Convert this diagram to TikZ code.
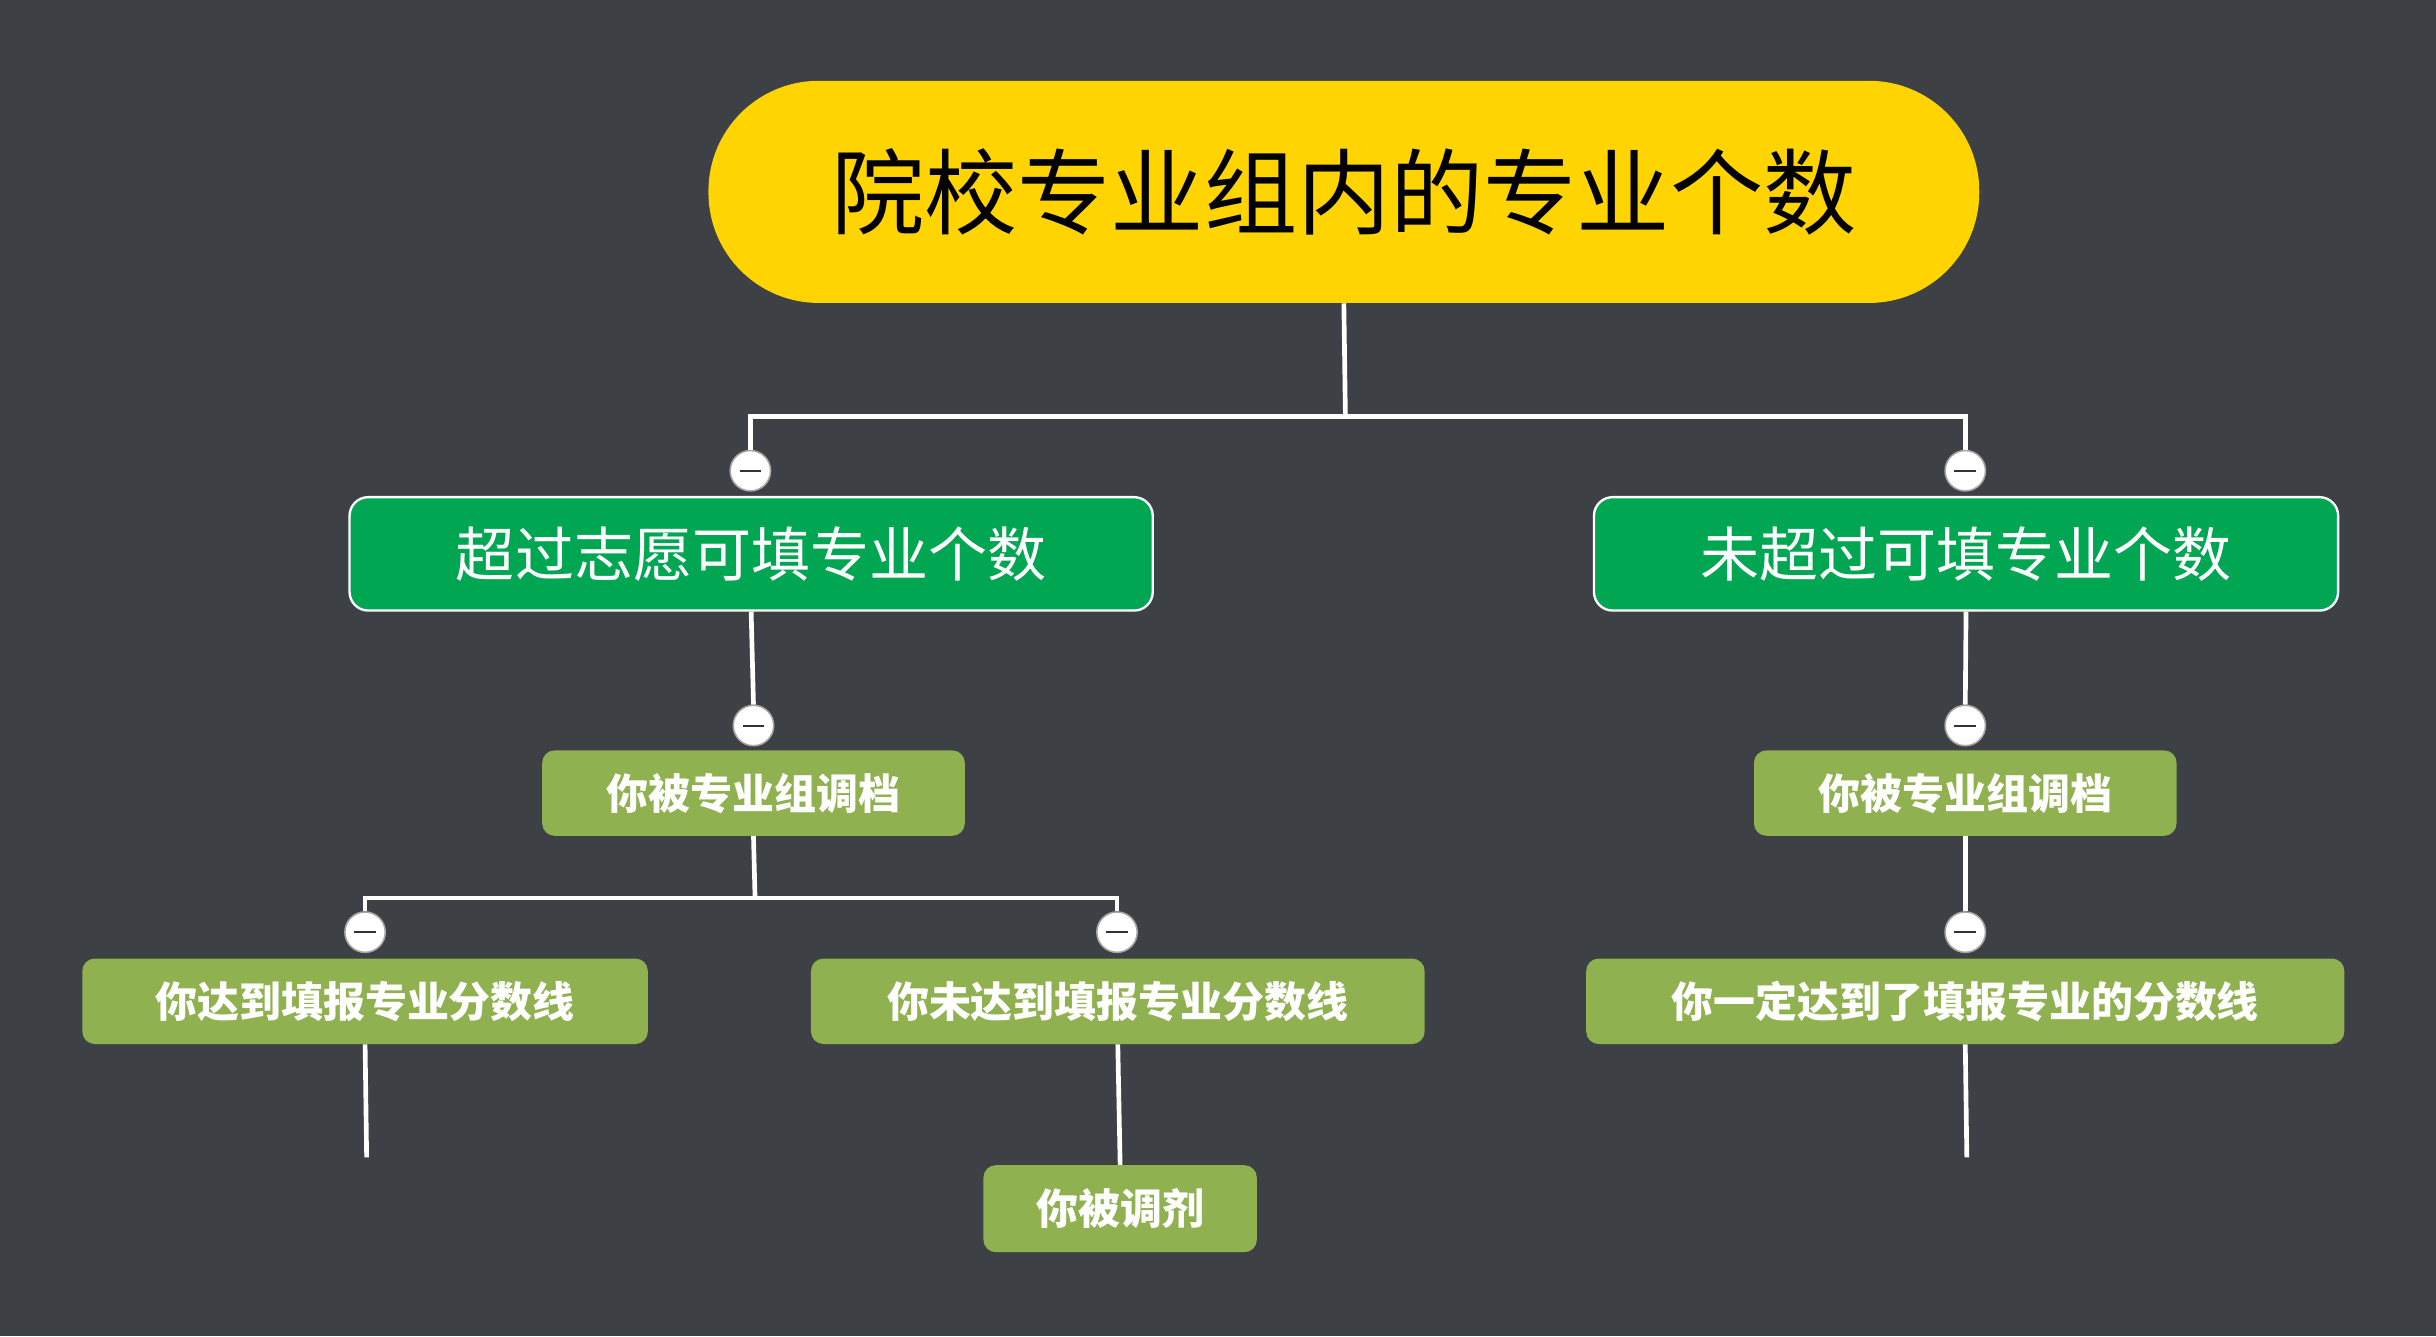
\documentclass[tikz,border=0pt]{standalone}
\usepackage{fontspec}
\setmainfont{Noto Sans CJK SC}
\begin{document}
\begin{tikzpicture}[x=1pt,y=-1pt,
  line/.style={white,line width=3pt},
  tog/.style={circle,draw=gray!70,fill=white,line width=1pt,minimum size=26pt,inner sep=0pt,
     path picture={\draw[black!80,line width=1.3pt] ([xshift=-7pt]path picture bounding box.center) -- ([xshift=7pt]path picture bounding box.center);}},
  gbox/.style={rounded corners=12pt,fill=green1,draw=white,line width=1.5pt,text=white,font=\fontsize{38}{40}\selectfont,inner sep=0pt},
  obox/.style={rounded corners=8pt,fill=olive1,text=white,font=\bfseries\fontsize{27}{30}\selectfont,inner sep=0pt}]
\definecolor{bg}{RGB}{61,64,68}
\definecolor{green1}{RGB}{0,166,82}
\definecolor{olive1}{RGB}{143,177,80}
\definecolor{yel}{RGB}{255,212,0}
\fill[bg] (0,0) rectangle (1568,860);
\useasboundingbox (0,0) rectangle (1568,860);
\node[rounded corners=71pt,fill=yel,minimum width=818pt,minimum height=143pt,inner sep=0pt,font=\fontsize{60}{62}\selectfont] (top) at (865,123.5) {院校专业组内的专业个数};
\node[gbox,minimum width=517pt,minimum height=73pt] (g1) at (483.5,356.5) {超过志愿可填专业个数};
\node[gbox,minimum width=479pt,minimum height=73pt] (g2) at (1265.5,356.5) {未超过可填专业个数};
\node[obox,minimum width=272pt,minimum height=55pt] (o1) at (485,510.5) {你被专业组调档};
\node[obox,minimum width=272pt,minimum height=55pt] (o2) at (1265,510.5) {你被专业组调档};
\node[obox,minimum width=364pt,minimum height=55pt] (a1) at (235,644.5) {你达到填报专业分数线};
\node[obox,minimum width=395pt,minimum height=55pt] (a2) at (719.5,644.5) {你未达到填报专业分数线};
\node[obox,minimum width=488pt,minimum height=55pt] (a3) at (1265,644.5) {你一定达到了填报专业的分数线};
\node[obox,minimum width=176pt,minimum height=56pt] (b2) at (721,778) {你被调剂};
\coordinate (e1) at (236,745);
\coordinate (e3) at (1266,745);
\coordinate (j1) at (866,268);
\coordinate (j2) at (486,578);
% toggles
\node[tog] (t1) at (483,303) {};
\node[tog] (t2) at (1265,303) {};
\node[tog] (t3) at (485,467) {};
\node[tog] (t4) at (1265,467) {};
\node[tog] (t5) at (235,600) {};
\node[tog] (t6) at (719,600) {};
\node[tog] (t7) at (1265,600) {};
\begin{scope}[on background layer/.style={}]
\draw[line] (top.south) -- (j1);
\draw[line] (j1) -| (t1.north);
\draw[line] (j1) -| (t2.north);
\draw[line] (g1.south) -- (t3.north);
\draw[line] (g2.south) -- (t4.north);
\draw[line] (o1.south) -- (j2);
\draw[line] (j2) -| (t5.north);
\draw[line] (j2) -| (t6.north);
\draw[line] (o2.south) -- (t7.north);
\draw[line] (a1.south) -- (e1);
\draw[line] (a2.south) -- (b2.north);
\draw[line] (a3.south) -- (e3);
\end{scope}
\end{tikzpicture}
\end{document}
